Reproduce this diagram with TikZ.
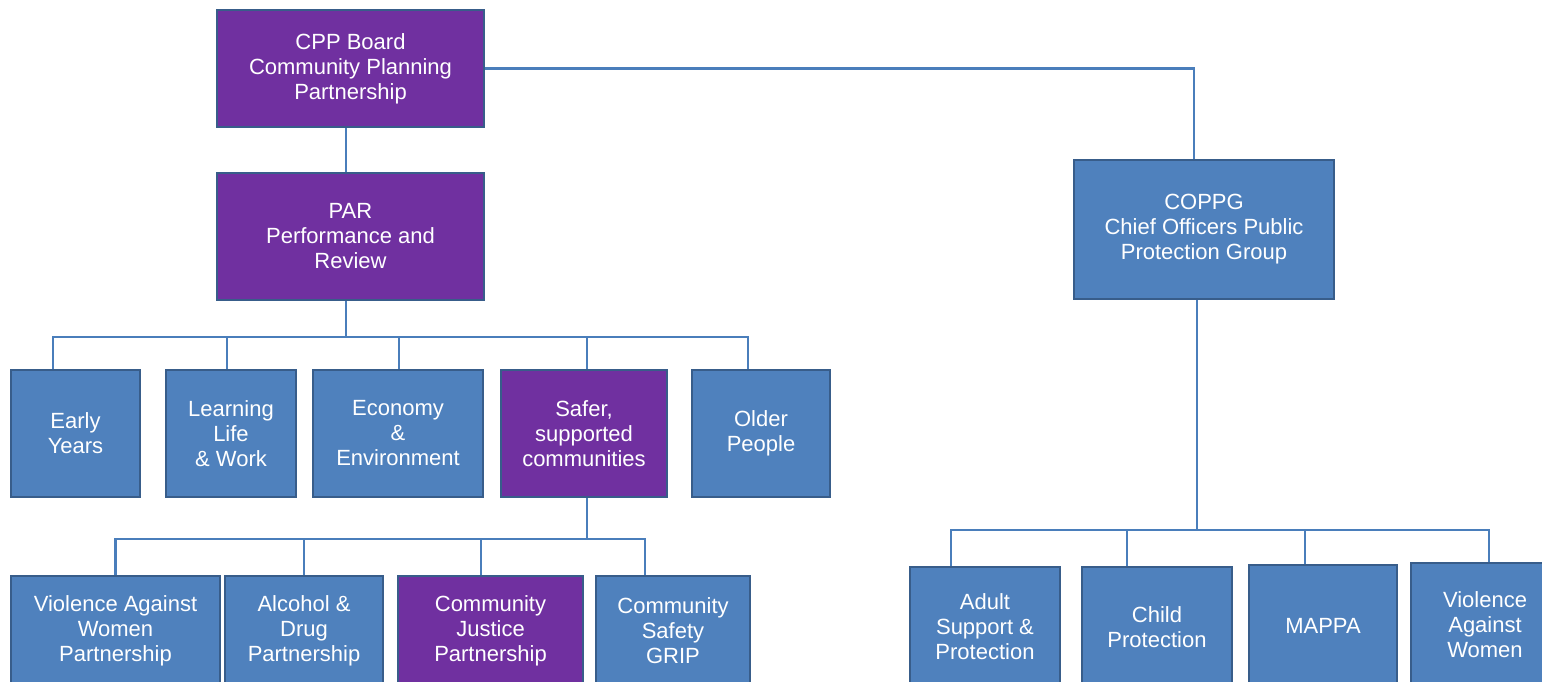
\documentclass[tikz,border=0pt]{standalone}
\usepackage{fontspec}
\setmainfont{Liberation Sans}
\definecolor{boxblue}{HTML}{4F81BD}
\definecolor{boxpurple}{HTML}{7030A0}
\definecolor{bord}{HTML}{385D8A}
\definecolor{linkblue}{HTML}{4A7EBB}
\tikzset{
    box/.style={draw=bord, fill=boxblue, text=white, line width=1pt, align=center, inner sep=0pt, font=\fontsize{11}{12.5}\selectfont},
    pbox/.style={box, fill=boxpurple},
    link/.style={draw=linkblue, line width=1.3pt},
}
\begin{document}
\begin{tikzpicture}[x=0.5pt,y=-0.5pt]
    \useasboundingbox (0,0) rectangle (1542,681);
    \clip (0,0) rectangle (1542,681);
    \node[pbox, minimum width=133.5pt, minimum height=58.5pt] (cpp) at (350.5,68.5) {CPP Board\\Community Planning\\Partnership};
    \node[pbox, minimum width=133.5pt, minimum height=63.5pt] (par) at (350.5,236.5) {PAR\\Performance and\\Review};
    \node[box, minimum width=130pt, minimum height=69.5pt] (coppg) at (1204,229.5) {COPPG\\Chief Officers Public\\Protection Group};
    % second row
    \node[box, minimum width=64.5pt, minimum height=63.5pt] (ey) at (75.5,433.5) {Early\\Years};
    \node[box, minimum width=65pt, minimum height=63.5pt] (llw) at (231,433.5) {Learning\\Life\\\& Work};
    \node[box, minimum width=85pt, minimum height=63.5pt] (ee) at (398,433.5) {Economy\\\&\\Environment};
    \node[pbox, minimum width=83pt, minimum height=63.5pt] (ssc) at (584,433.5) {Safer,\\supported\\communities};
    \node[box, minimum width=69pt, minimum height=63.5pt] (op) at (761,433.5) {Older\\People};
    % third row
    \node[box, minimum width=104.5pt, minimum height=55pt] (vawp) at (115.5,631) {Violence Against\\Women\\Partnership};
    \node[box, minimum width=79pt, minimum height=55pt] (adp) at (304,631) {Alcohol \&\\Drug\\Partnership};
    \node[pbox, minimum width=92.5pt, minimum height=55pt] (cjp) at (490.5,631) {Community\\Justice\\Partnership};
    \node[box, minimum width=77pt, minimum height=55pt] (csg) at (673,631) {Community\\Safety\\GRIP};
    \node[box, minimum width=75pt, minimum height=60pt] (asp) at (985,627) {Adult\\Support \&\\Protection};
    \node[box, minimum width=75pt, minimum height=60pt] (cp) at (1157,627) {Child\\Protection};
    \node[box, minimum width=74pt, minimum height=61pt] (mappa) at (1323,626) {MAPPA};
    \node[box, minimum width=74pt, minimum height=62pt] (vaw) at (1485,625) {Violence\\Against\\Women};
    % links
    \draw[link] ([xshift=-2.25pt]cpp.south) -- ([xshift=-2.25pt]par.north);
    \draw[link] (cpp.east) -| ([xshift=-5pt]coppg.north);
    \draw[link] ([xshift=-2.25pt]par.south) -- ++(0,36) -| ([xshift=-11.25pt]ey.north);
    \draw[link] ([xshift=-2.25pt]par.south) -- ++(0,36) -| ([xshift=-2pt]llw.north);
    \draw[link] ([xshift=-2.25pt]par.south) -- ++(0,36) -| ([xshift=0.5pt]ee.north);
    \draw[link] ([xshift=-2.25pt]par.south) -- ++(0,36) -| ([xshift=1.5pt]ssc.north);
    \draw[link] ([xshift=-2.25pt]par.south) -- ++(0,36) -| ([xshift=-6.5pt]op.north);
    \draw[link] ([xshift=1.5pt]ssc.south) -- ++(0,41) -| (vawp.north);
    \draw[link] ([xshift=1.5pt]ssc.south) -- ++(0,41) -| (adp.north);
    \draw[link] ([xshift=1.5pt]ssc.south) -- ++(0,41) -| ([xshift=-4.75pt]cjp.north);
    \draw[link] ([xshift=1.5pt]ssc.south) -- ++(0,41) -| ([xshift=-14pt]csg.north);
    \draw[link] ([xshift=-3.5pt]coppg.south) -- ++(0,230) -| ([xshift=-17pt]asp.north);
    \draw[link] ([xshift=-3.5pt]coppg.south) -- ++(0,230) -| ([xshift=-15pt]cp.north);
    \draw[link] ([xshift=-3.5pt]coppg.south) -- ++(0,230) -| ([xshift=-9pt]mappa.north);
    \draw[link] ([xshift=-3.5pt]coppg.south) -- ++(0,230) -| ([xshift=2pt]vaw.north);
\end{tikzpicture}
\end{document}
